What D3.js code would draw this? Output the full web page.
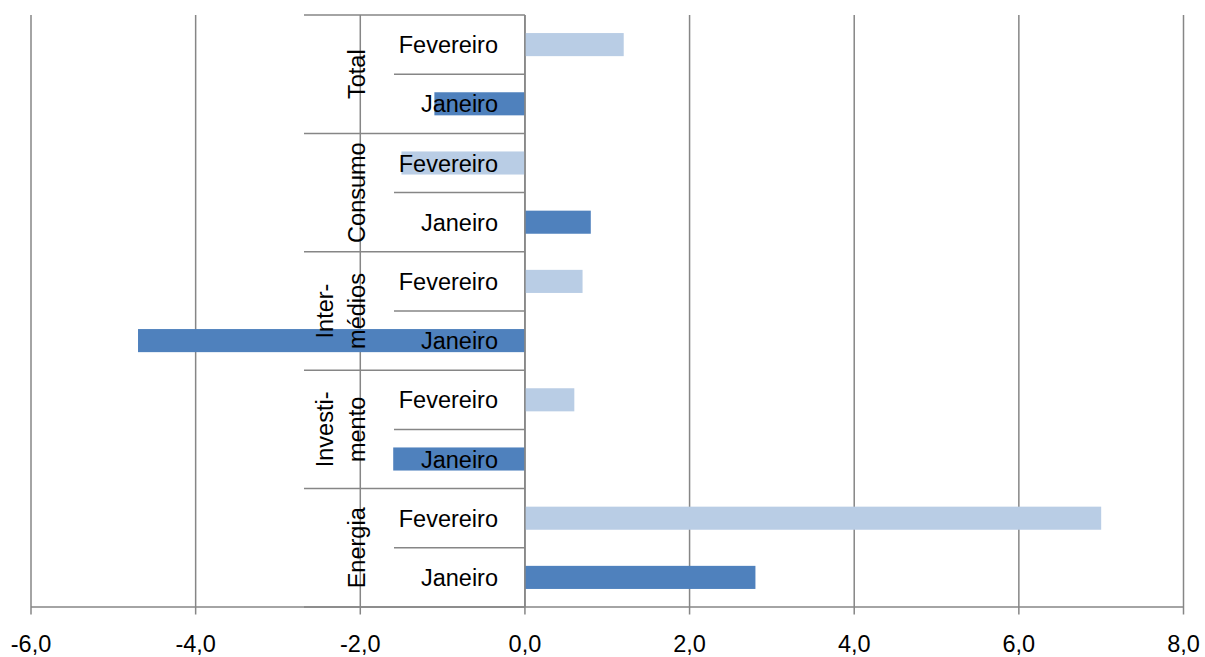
<!DOCTYPE html>
<html><head><meta charset="utf-8">
<script src="https://cdn.jsdelivr.net/npm/d3@7"></script>
<style>body{margin:0;background:#fff}svg{display:block}text{font-family:"Liberation Sans",Arial,sans-serif;fill:#000}</style>
</head><body><svg id="c" width="1205" height="657"></svg>
<script>
const groups = [["Total"],["Consumo"],["Inter-","médios"],["Investi-","mento"],["Energia"]];
const months = ["Fevereiro","Janeiro"];
const fevereiro = [1.2, -1.5, 0.7, 0.6, 7.0];
const janeiro = [-1.1, 0.8, -4.7, -1.6, 2.8];
const xTicks = [-6,-4,-2,0,2,4,6,8];
const seriesColors = {"Fevereiro":"#b9cde5","Janeiro":"#4f81bd"};

const rows = [];
groups.forEach((g,i)=>{
  rows.push({key:i+"-F", group:i, month:months[0], value:fevereiro[i]});
  rows.push({key:i+"-J", group:i, month:months[1], value:janeiro[i]});
});

const svg = d3.select("#c");
const pTop = 15, pBottom = 607, pLeft = 31, pRight = 1183.5;
const x = d3.scaleLinear().domain([-6,8]).range([pLeft,pRight]);
const y = d3.scaleBand().domain(rows.map(r=>r.key)).range([pTop,pBottom]).padding(0);
const step = y.step();
const barH = step*0.39;
const gray = "#868686";
const fs = 23.5;

// gridlines + ticks
svg.append("g").selectAll("line").data(xTicks).join("line")
  .attr("x1",d=>x(d)).attr("x2",d=>x(d)).attr("y1",pTop).attr("y2",pBottom+7.5)
  .attr("stroke",gray).attr("stroke-width",1.5);
// x axis line
svg.append("line").attr("x1",pLeft).attr("x2",pRight).attr("y1",pBottom).attr("y2",pBottom)
  .attr("stroke",gray).attr("stroke-width",1.5);

// bars
svg.append("g").selectAll("rect").data(rows).join("rect")
  .attr("x",d=>x(Math.min(0,d.value)))
  .attr("width",d=>Math.abs(x(d.value)-x(0)))
  .attr("y",d=>y(d.key)+(step-barH)/2)
  .attr("height",barH)
  .attr("fill",d=>seriesColors[d.month]);

// category axis
const x0 = x(0);
const ax = svg.append("g");
ax.append("line").attr("x1",x0).attr("x2",x0).attr("y1",pTop).attr("y2",pBottom)
  .attr("stroke",gray).attr("stroke-width",1.5);
ax.selectAll("line.inner").data(groups).join("line").attr("class","inner")
  .attr("x1",394).attr("x2",x0)
  .attr("y1",(d,i)=>y(i+"-J")).attr("y2",(d,i)=>y(i+"-J"))
  .attr("stroke",gray).attr("stroke-width",1.5);
const bounds = d3.range(groups.length+1).map(i=> i<groups.length ? y(i+"-F") : pBottom);
ax.selectAll("line.outer").data(bounds).join("line").attr("class","outer")
  .attr("x1",304).attr("x2",x0).attr("y1",d=>d).attr("y2",d=>d)
  .attr("stroke",gray).attr("stroke-width",1.5);

// month labels
svg.append("g").selectAll("text").data(rows).join("text")
  .attr("x",498).attr("y",d=>y(d.key)+step/2+8.5)
  .attr("text-anchor","end").attr("font-size",fs).text(d=>d.month);

// group labels rotated
groups.forEach((lines,i)=>{
  const cy = y(i+"-F")+step;
  const n = lines.length;
  lines.forEach((t,j)=>{
    const bx = 364.5 - (n-1-j)*32;
    svg.append("text").attr("transform",`translate(${bx},${cy}) rotate(-90)`)
      .attr("text-anchor","middle").attr("font-size",fs).text(t);
  });
});

// x tick labels
const fmt = d=> d.toFixed(1).replace(".",",");
svg.append("g").selectAll("text").data(xTicks).join("text")
  .attr("x",d=>x(d)).attr("y",652).attr("text-anchor","middle")
  .attr("font-size",fs).text(fmt);
</script></body></html>
